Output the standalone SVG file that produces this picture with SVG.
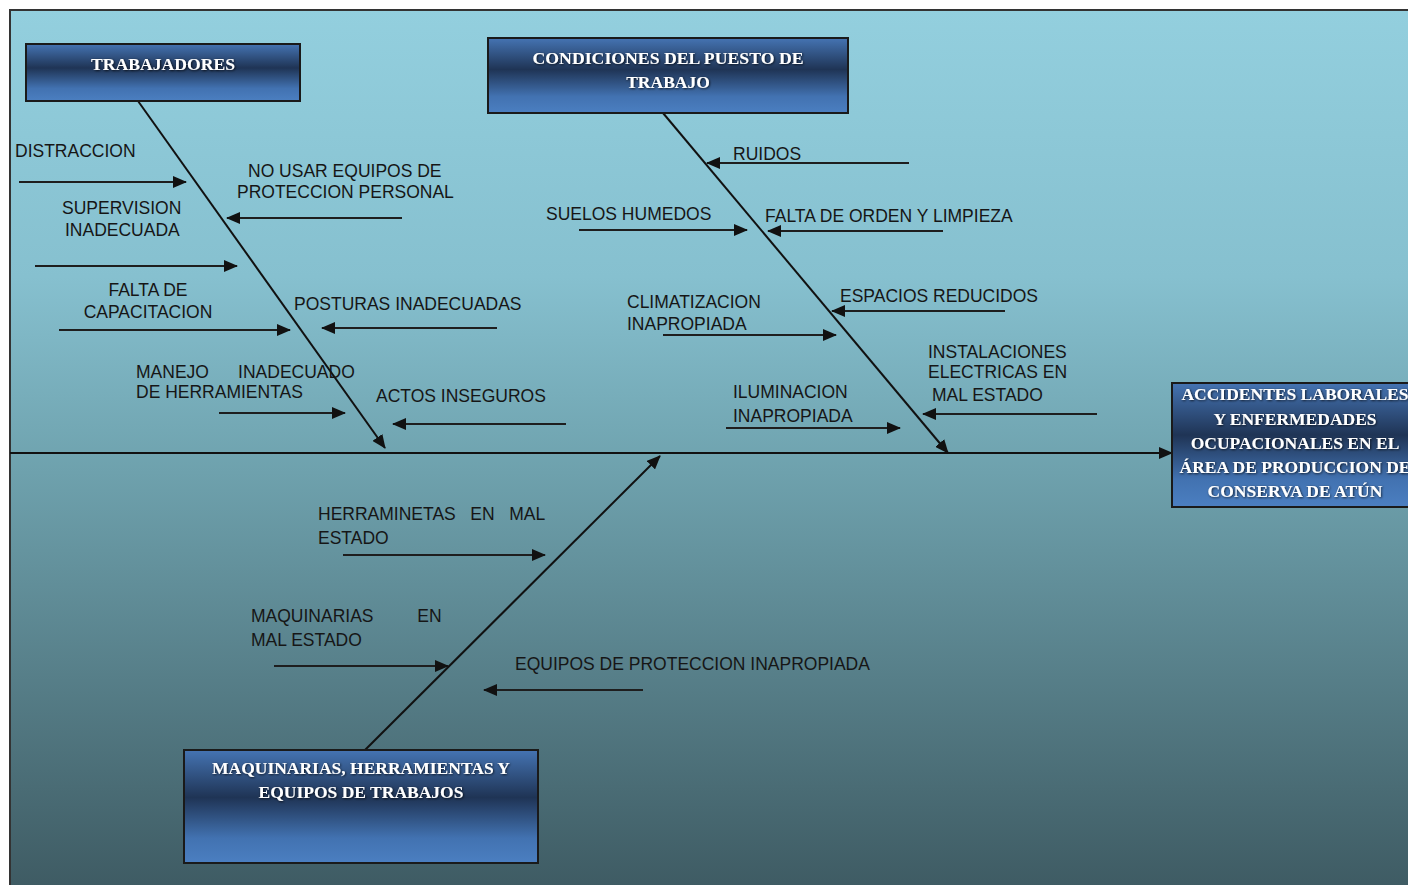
<svg xmlns="http://www.w3.org/2000/svg" width="1408" height="885" viewBox="0 0 1408 885">
<defs>
<linearGradient id="bg" x1="0" y1="0" x2="0" y2="1">
<stop offset="0" stop-color="#93cfde"/>
<stop offset="0.3" stop-color="#86c0cf"/>
<stop offset="0.5" stop-color="#70a4b0"/>
<stop offset="1" stop-color="#3d5961"/>
</linearGradient>
<linearGradient id="box" x1="0" y1="0" x2="0" y2="1">
<stop offset="0" stop-color="#4574b3"/>
<stop offset="0.42" stop-color="#1f3455"/>
<stop offset="0.78" stop-color="#4272b1"/>
<stop offset="1" stop-color="#4b7fc1"/>
</linearGradient>
<marker id="ah" viewBox="0 0 14 12" refX="13" refY="6" markerWidth="14" markerHeight="12" markerUnits="userSpaceOnUse" orient="auto">
<path d="M0,0 L14,6 L0,12 Z" fill="#111"/>
</marker>
<filter id="sh" x="-5%" y="-20%" width="110%" height="140%">
<feDropShadow dx="0.8" dy="0.8" stdDeviation="0.8" flood-color="#000" flood-opacity="0.8"/>
</filter>
</defs>
<style>
.lbl{font-family:"Liberation Sans",Arial,sans-serif;font-size:17.5px;fill:#161616}
.hd{font-family:"Liberation Serif","Times New Roman",serif;font-size:17.5px;font-weight:bold;fill:#fff;text-anchor:middle;filter:url(#sh)}
.bx{fill:url(#box);stroke:#1a1a1a;stroke-width:2}
.ar{stroke:#1e1e1e;stroke-width:2;fill:none;marker-end:url(#ah)}
.bone{stroke:#111;stroke-width:2;fill:none;marker-end:url(#ah)}
</style>
<rect x="0" y="0" width="1408" height="885" fill="#fff"/>
<rect x="10" y="10" width="1410" height="890" fill="url(#bg)" stroke="#333" stroke-width="2"/>

<g id="connectors">
<line class="bone" x1="10" y1="453" x2="1172" y2="453"/>
<line class="bone" x1="138" y1="101" x2="385" y2="448"/>
<line class="bone" x1="663" y1="113" x2="948" y2="453"/>
<line class="bone" x1="365" y1="750" x2="660" y2="456"/>
<line class="ar" x1="19" y1="182" x2="186" y2="182"/>
<line class="ar" x1="402" y1="218" x2="227" y2="218"/>
<line class="ar" x1="35" y1="266" x2="237" y2="266"/>
<line class="ar" x1="59" y1="330" x2="290" y2="330"/>
<line class="ar" x1="497" y1="328" x2="322" y2="328"/>
<line class="ar" x1="219" y1="413" x2="345" y2="413"/>
<line class="ar" x1="566" y1="424" x2="393" y2="424"/>
<line class="ar" x1="909" y1="163" x2="707" y2="163"/>
<line class="ar" x1="579" y1="230" x2="747" y2="230"/>
<line class="ar" x1="943" y1="231" x2="768" y2="231"/>
<line class="ar" x1="663" y1="335" x2="836" y2="335"/>
<line class="ar" x1="1005" y1="311" x2="832" y2="311"/>
<line class="ar" x1="1097" y1="414" x2="923" y2="414"/>
<line class="ar" x1="726" y1="428" x2="900" y2="428"/>
<line class="ar" x1="343" y1="555" x2="545" y2="555"/>
<line class="ar" x1="274" y1="666" x2="448" y2="666"/>
<line class="ar" x1="643" y1="690" x2="484" y2="690"/>
</g>

<g id="labels">
<text class="lbl" x="15" y="157">DISTRACCION</text>
<text class="lbl" x="248" y="177">NO USAR EQUIPOS DE</text>
<text class="lbl" x="237" y="198">PROTECCION PERSONAL</text>
<text class="lbl" x="62" y="214">SUPERVISION</text>
<text class="lbl" x="65" y="236">INADECUADA</text>
<text class="lbl" x="148" y="296" text-anchor="middle">FALTA DE</text>
<text class="lbl" x="148" y="318" text-anchor="middle">CAPACITACION</text>
<text class="lbl" x="294" y="310">POSTURAS INADECUADAS</text>
<text class="lbl" x="136" y="378" xml:space="preserve">MANEJO      INADECUADO</text>
<text class="lbl" x="136" y="398">DE HERRAMIENTAS</text>
<text class="lbl" x="376" y="402">ACTOS INSEGUROS</text>
<text class="lbl" x="733" y="160">RUIDOS</text>
<text class="lbl" x="546" y="220">SUELOS HUMEDOS</text>
<text class="lbl" x="765" y="222">FALTA DE ORDEN Y LIMPIEZA</text>
<text class="lbl" x="627" y="308">CLIMATIZACION</text>
<text class="lbl" x="627" y="330">INAPROPIADA</text>
<text class="lbl" x="840" y="302">ESPACIOS REDUCIDOS</text>
<text class="lbl" x="928" y="358">INSTALACIONES</text>
<text class="lbl" x="928" y="378">ELECTRICAS EN</text>
<text class="lbl" x="932" y="401">MAL ESTADO</text>
<text class="lbl" x="733" y="398">ILUMINACION</text>
<text class="lbl" x="733" y="422">INAPROPIADA</text>
<text class="lbl" x="318" y="520" xml:space="preserve">HERRAMINETAS   EN   MAL</text>
<text class="lbl" x="318" y="544">ESTADO</text>
<text class="lbl" x="251" y="622" xml:space="preserve">MAQUINARIAS         EN</text>
<text class="lbl" x="251" y="646">MAL ESTADO</text>
<text class="lbl" x="515" y="670">EQUIPOS DE PROTECCION INAPROPIADA</text>
</g>

<g id="trabajadores">
<rect class="bx" x="26" y="44" width="274" height="57"/>
<text class="hd" x="163" y="70" textLength="144" lengthAdjust="spacingAndGlyphs">TRABAJADORES</text>
</g>
<g id="condiciones">
<rect class="bx" x="488" y="38" width="360" height="75"/>
<text class="hd" x="668" y="64" textLength="271" lengthAdjust="spacingAndGlyphs">CONDICIONES DEL PUESTO DE</text>
<text class="hd" x="668" y="88">TRABAJO</text>
</g>
<g id="accidentes">
<rect class="bx" x="1172" y="383" width="250" height="124"/>
<text class="hd" x="1295" y="400">ACCIDENTES LABORALES</text>
<text class="hd" x="1295" y="425">Y ENFERMEDADES</text>
<text class="hd" x="1295" y="449">OCUPACIONALES EN EL</text>
<text class="hd" x="1295" y="473">ÁREA DE PRODUCCION DE</text>
<text class="hd" x="1295" y="497">CONSERVA DE ATÚN</text>
</g>
<g id="maquinarias">
<rect class="bx" x="184" y="750" width="354" height="113"/>
<text class="hd" x="361" y="774">MAQUINARIAS, HERRAMIENTAS Y</text>
<text class="hd" x="361" y="798">EQUIPOS DE TRABAJOS</text>
</g>
</svg>
